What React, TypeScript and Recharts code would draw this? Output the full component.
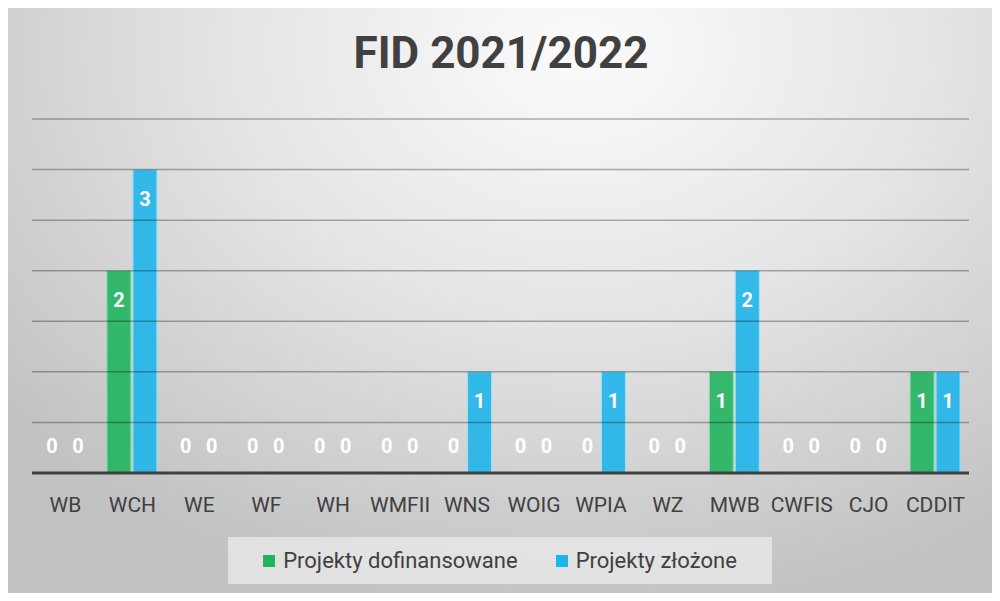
import { Bar, BarChart, LabelList, ReferenceLine, XAxis, YAxis } from "recharts";

const categories = ["WB", "WCH", "WE", "WF", "WH", "WMFII", "WNS", "WOIG", "WPIA", "WZ", "MWB", "CWFIS", "CJO", "CDDIT"];
const dofinansowane = [0, 2, 0, 0, 0, 0, 0, 0, 0, 0, 1, 0, 0, 1];
const zlozone = [0, 3, 0, 0, 0, 0, 1, 0, 1, 0, 2, 0, 0, 1];
const yTicks = [0.5, 1, 1.5, 2, 2.5, 3, 3.5];

const GREEN = "#21b45f";
const BLUE = "#1fb5ea";
const FONT = "Roboto, 'Noto Sans', sans-serif";

const data = categories.map((name, i) => ({
  name,
  dof: dofinansowane[i],
  zlo: zlozone[i],
}));

// value label: inside near the top of the bar, or above the baseline for zero bars
const renderLabel = (props: any) => {
  const { x, y, width, height, value } = props;
  const cx = Number(x) + Number(width) / 2;
  const cy = value > 0 ? Number(y) + 29 : Number(y) + Number(height) - 27;
  return (
    <text
      x={cx}
      y={cy}
      dy="0.35em"
      textAnchor="middle"
      fill="#ffffff"
      fontFamily={FONT}
      fontWeight={700}
      fontSize={20}
    >
      {value}
    </text>
  );
};

export default function App() {
  return (
    <div
      style={{
        position: "relative",
        margin: -8,
        width: 1000,
        height: 601,
        boxSizing: "border-box",
        border: "1px solid #b4b4b4",
        background:
          "radial-gradient(ellipse 75% 95% at 58% 8%, #fbfbfb 0%, #e6e6e6 45%, #d2d2d2 75%, #c2c2c2 100%)",
        fontFamily: FONT,
        overflow: "hidden",
      }}
    >
      <div
        style={{
          position: "absolute",
          top: 24,
          left: 0,
          width: 1000,
          textAlign: "center",
          fontSize: 44,
          fontWeight: 700,
          color: "#404040",
          lineHeight: "56px",
        }}
      >
        FID 2021/2022
      </div>
      <div style={{ position: "absolute", top: 0, left: 0 }}>
        <BarChart
          width={1000}
          height={601}
          data={data}
          margin={{ top: 118, right: 32, bottom: 99, left: 31 }}
          barSize={24}
          barGap={2}
        >
          <YAxis
            domain={[0, 3.5]}
            ticks={yTicks}
            width={0}
            tick={false}
            axisLine={false}
            tickLine={false}
          />
          {yTicks.map((v) => (
            <ReferenceLine
              key={v}
              y={v}
              stroke="rgba(0,0,0,0.3)"
              strokeWidth={1.5}
            />
          ))}
          <XAxis
            dataKey="name"
            height={30}
            interval={0}
            tickLine={false}
            tickSize={0}
            tickMargin={24}
            axisLine={{ stroke: "#404040", strokeWidth: 3 }}
            tick={{ fill: "#404040", fontSize: 21, fontFamily: FONT }}
          />
          <Bar
            dataKey="dof"
            fill={GREEN}
            fillOpacity={0.9}
            stroke="#8fe0b0"
            strokeWidth={1}
            minPointSize={0.5}
            isAnimationActive={false}
          >
            <LabelList dataKey="dof" content={renderLabel} />
          </Bar>
          <Bar
            dataKey="zlo"
            fill={BLUE}
            fillOpacity={0.9}
            stroke="#9ee0f7"
            strokeWidth={1}
            minPointSize={0.5}
            isAnimationActive={false}
          >
            <LabelList dataKey="zlo" content={renderLabel} />
          </Bar>
        </BarChart>
      </div>
      <div
        style={{
          position: "absolute",
          left: 227,
          top: 536,
          width: 544,
          height: 47,
          background: "rgba(235,235,235,0.75)",
          display: "flex",
          alignItems: "center",
          justifyContent: "center",
          fontSize: 22,
          color: "#404040",
          gap: 38,
        }}
      >
        <div style={{ display: "flex", alignItems: "center" }}>
          <span style={{ width: 12, height: 12, background: GREEN, marginRight: 8 }} />
          Projekty dofinansowane
        </div>
        <div style={{ display: "flex", alignItems: "center" }}>
          <span style={{ width: 12, height: 12, background: BLUE, marginRight: 8 }} />
          Projekty złożone
        </div>
      </div>
    </div>
  );
}
